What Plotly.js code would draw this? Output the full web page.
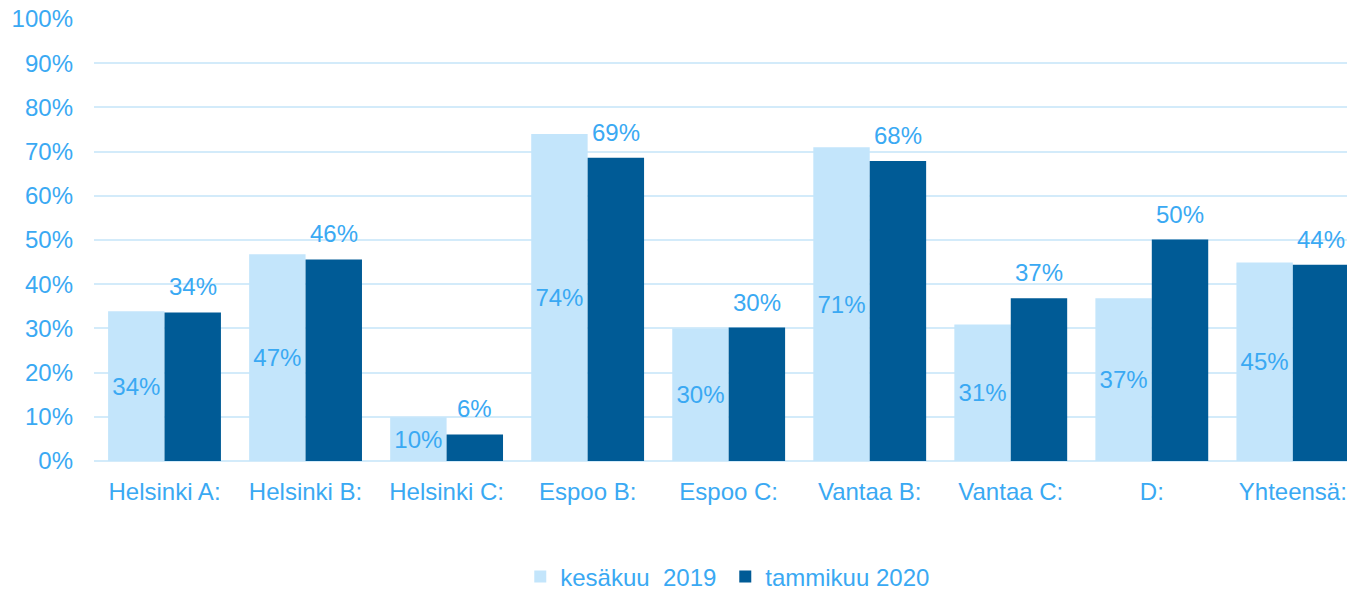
<!DOCTYPE html>
<html>
<head>
<meta charset="utf-8">
<script src="https://cdn.plot.ly/plotly-3.0.1.min.js"></script>
<style>html,body{margin:0;padding:0;background:#fff;}#chart{width:1347px;height:592px;}</style>
</head>
<body>
<div id="chart"></div>
<script>
const categories = ["Helsinki A:", "Helsinki B:", "Helsinki C:", "Espoo B:", "Espoo C:", "Vantaa B:", "Vantaa C:", "D:", "Yhteensä:"];
const summer2019 = [33.9, 46.8, 9.9, 74.0, 30.0, 71.0, 30.9, 36.8, 44.9];
const january2020 = [33.6, 45.6, 6.0, 68.6, 30.2, 67.9, 36.8, 50.1, 44.4];
const seriesNames = ["kesäkuu \u00a02019", "tammikuu 2020"];
const yTicks = [0, 10, 20, 30, 40, 50, 60, 70, 80, 90, 100];

const FONT = "Liberation Sans, Arial, sans-serif";
const TXT = "#3aa9f3";
const FS = 24;

const traces = [
  {
    type: "bar", name: seriesNames[0], x: categories, y: summer2019,
    marker: {color: "#c3e5fb"},
    texttemplate: "%{y:.0f}%", textposition: "inside", insidetextanchor: "middle",
    constraintext: "none",
    textfont: {family: FONT, size: FS, color: TXT},
    hoverinfo: "x+y"
  },
  {
    type: "bar", name: seriesNames[1], x: categories, y: january2020,
    marker: {color: "#005b96"},
    textposition: "none",
    hoverinfo: "x+y"
  }
];

const annotations = categories.map((c, i) => ({
  x: c, y: january2020[i], xref: "x", yref: "y",
  text: Math.round(january2020[i]) + "%",
  showarrow: false, xshift: 28, yshift: 10, yanchor: "bottom",
  font: {family: FONT, size: FS, color: TXT}
}));

const layout = {
  width: 1347, height: 592,
  margin: {l: 94, r: 0, t: 19, b: 131, pad: 0, autoexpand: false},
  paper_bgcolor: "#fff", plot_bgcolor: "#fff",
  font: {family: FONT, size: FS, color: TXT},
  barmode: "group", bargap: 0.2, bargroupgap: 0,
  showlegend: true,
  legend: {
    orientation: "h", x: 0.3402, xanchor: "left", y: -0.2624, yanchor: "middle",
    entrywidth: 160, entrywidthmode: "pixels",
    font: {family: FONT, size: FS, color: TXT}, bgcolor: "rgba(0,0,0,0)", traceorder: "normal"
  },
  xaxis: {
    type: "category", range: [-0.5, 8.384], showgrid: false, zeroline: false,
    showline: false, ticks: "", ticklabelstandoff: 14,
    tickfont: {family: FONT, size: FS, color: TXT}, fixedrange: true
  },
  yaxis: {
    range: [0, 100], tickmode: "array", tickvals: yTicks, ticktext: yTicks.map(v => v + "%"),
    showgrid: true, gridcolor: "#d3ebfa", gridwidth: 2, zeroline: true, zerolinecolor: "#d3ebfa", zerolinewidth: 2,
    showline: false, ticks: "", ticklabelstandoff: 20,
    tickfont: {family: FONT, size: FS, color: TXT}, fixedrange: true
  },
  annotations: annotations
};

Plotly.newPlot("chart", traces, layout, {displayModeBar: false, staticPlot: true});
</script>
</body>
</html>
